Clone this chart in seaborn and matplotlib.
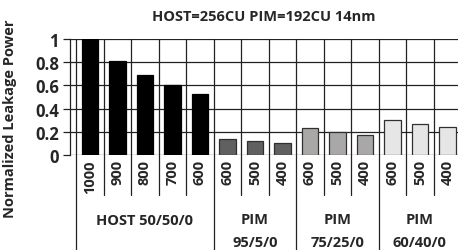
import numpy as np
import pandas as pd
import seaborn as sns
import matplotlib.pyplot as plt
import matplotlib.transforms as mtransforms

# data
groups = ['HOST 50/50/0', 'PIM\n95/5/0', 'PIM\n75/25/0', 'PIM\n60/40/0']
host_freq = ['1000', '900', '800', '700', '600']
host_power = [1.0, 0.81, 0.69, 0.60, 0.53]
pim95_freq = ['600', '500', '400']
pim95_power = [0.14, 0.12, 0.10]
pim75_freq = ['600', '500', '400']
pim75_power = [0.23, 0.20, 0.175]
pim60_freq = ['600', '500', '400']
pim60_power = [0.30, 0.265, 0.24]
group_colors = ['#000000', '#606060', '#aaa7a7', '#e6e6e6']

freqs = [host_freq, pim95_freq, pim75_freq, pim60_freq]
powers = [host_power, pim95_power, pim75_power, pim60_power]
rows = []
for g, f, p in zip(groups, freqs, powers):
    for fi, pi in zip(f, p):
        rows.append({'key': g + '|' + fi, 'group': g, 'freq': fi, 'power': pi})
df = pd.DataFrame(rows)

sns.set_style('white')
plt.rcParams['font.family'] = ['Open Sans', 'DejaVu Sans']
plt.rcParams['font.weight'] = 'bold'

fig = plt.figure(figsize=(4.58, 2.51), dpi=100)
ax = fig.add_axes([70 / 458, 1 - 156 / 251, 1 - 70 / 458, 116 / 251])

sns.barplot(data=df, x='key', y='power', hue='group', palette=group_colors,
            dodge=False, width=0.6, ax=ax, legend=False, zorder=3)
for patch, col in zip(ax.patches, df['group'].map(dict(zip(groups, group_colors)))):
    patch.set_edgecolor('#000000' if col == '#000000' else '#303030')
    patch.set_linewidth(0.9)

n = len(df)
ax.set_xlim(-0.72, n - 0.5 - 3 / 27.5)
ax.set_ylim(0, 1)
ax.set_yticks(np.arange(0, 1.01, 0.2))
ax.set_yticklabels(['0', '0.2', '0.4', '0.6', '0.8', '1'], fontsize=12, fontweight='bold')
ax.tick_params(axis='y', length=5, width=0.9, color='#222222', pad=3, left=True)
ax.set_xticks(range(n))
ax.set_xticklabels(df['freq'], rotation=90, fontsize=10.5, fontweight='bold')
ax.tick_params(axis='x', length=0, pad=3)
ax.set_xlabel('')
ax.set_ylabel('Normalized Leakage Power', fontsize=10.5, fontweight='bold')
ax.yaxis.set_label_coords((17 - 70) / 388, (156 - 119) / 116)

for y in np.arange(0, 1.01, 0.2):
    ax.axhline(y, color='#222222', lw=0.9, zorder=1)
for s in ['top', 'right', 'bottom']:
    ax.spines[s].set_visible(False)
ax.spines['left'].set_color('#222222')
ax.spines['left'].set_linewidth(0.9)

trans = mtransforms.blended_transform_factory(ax.transData, ax.transAxes)
group_bounds = np.cumsum([0] + [len(f) for f in freqs]) - 0.5
for i in range(n + 1):
    xb = i - 0.5
    low = -0.82 if xb in group_bounds else -0.345
    ax.plot([xb, xb], [low, 1], color='#222222', lw=0.9, transform=trans,
            clip_on=False, zorder=1)

for g, a, b in zip(groups, group_bounds[:-1], group_bounds[1:]):
    cx = (a + b) / 2
    lines = g.split('\n')
    if len(lines) == 1:
        ax.text(cx, -0.56, lines[0], transform=trans, ha='center', va='center',
                fontsize=10.5, fontweight='bold')
    else:
        ax.text(cx, -0.552, lines[0], transform=trans, ha='center', va='center',
                fontsize=10.5, fontweight='bold')
        ax.text(cx, -0.75, lines[1], transform=trans, ha='center', va='center',
                fontsize=10.5, fontweight='bold')

fig.text(264 / 458, 1 - 17 / 251, 'HOST=256CU PIM=192CU 14nm', ha='center',
         va='center', fontsize=10.5, fontweight='bold')

fig.savefig('out.png', dpi=100)
